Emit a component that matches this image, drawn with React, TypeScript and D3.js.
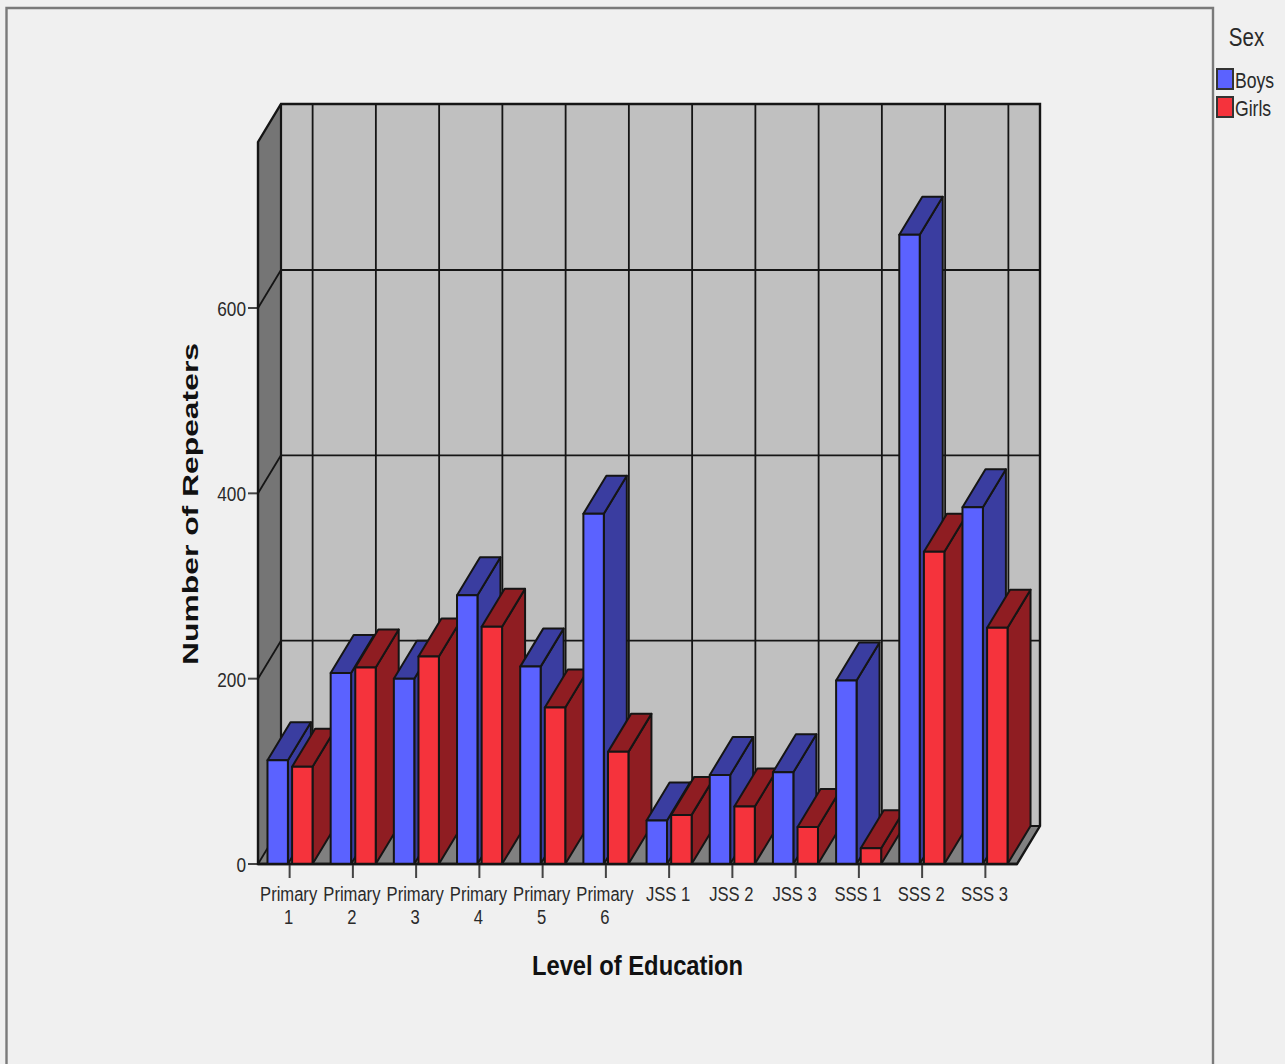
import React from "react";
import * as d3 from "d3";

const categories = ["Primary 1", "Primary 2", "Primary 3", "Primary 4", "Primary 5", "Primary 6", "JSS 1", "JSS 2", "JSS 3", "SSS 1", "SSS 2", "SSS 3"];
const boys = [112, 206, 200, 290, 213, 378, 47, 96, 99, 198, 679, 385];
const girls = [105, 212, 224, 256, 169, 121, 53, 62, 40, 17, 337, 255];
const yTicks = [0, 200, 400, 600];
const sexes = ["Boys", "Girls"];
const frontColors = ["#5b62ff", "#f5333c"];
const sideColors = ["#3a3da0", "#8f1d22"];

const left = 258, right = 1017, floor = 864, top = 142, dx = 23, dy = -38;
const LINE = "#151515";

const x0 = d3.scaleBand<string>().domain(categories).range([left, right]).paddingInner(0.287).paddingOuter(0.15);
const x1 = d3.scaleBand<string>().domain(sexes).range([0, x0.bandwidth()]).paddingInner(0.17);
const tickX = d3.scalePoint<string>().domain(categories).range([left, right]).padding(0.5);
const y = d3.scaleLinear().domain([0, 600]).range([floor, 308]);

const poly = (pts: number[][]) => pts.map((p) => p.join(",")).join(" ");

function Squeezed({ x, y: yy, children, size = 20, sx = 0.72, fill = "#2a2a2a", weight = 400, anchor = "middle" }: any) {
  return (
    <text transform={`translate(${x},${yy}) scale(${sx},1)`} fontFamily="'Liberation Sans', sans-serif" fontSize={size} fontWeight={weight} fill={fill} textAnchor={anchor}>
      {children}
    </text>
  );
}

function Bar({ xa, w, v, i }: { xa: number; w: number; v: number; i: number }) {
  const yt = y(v);
  const xb = xa + w;
  return (
    <g stroke={LINE} strokeWidth={2} strokeLinejoin="round">
      <polygon points={poly([[xb, yt], [xb + dx, yt + dy], [xb + dx, floor + dy], [xb, floor]])} fill={sideColors[i]} />
      <polygon points={poly([[xa, yt], [xa + dx, yt + dy], [xb + dx, yt + dy], [xb, yt]])} fill={sideColors[i]} />
      <rect x={xa} y={yt} width={w} height={floor - yt} fill={frontColors[i]} />
    </g>
  );
}

export default function App() {
  return (
    <svg width={1285} height={1064} style={{ position: "absolute", left: 0, top: 0, display: "block" }}>
      <rect width={1285} height={1064} fill="#f0f0f0" />
      <path d="M6.5,1064 V8 H1213 V1064" fill="none" stroke="#7a7a7a" strokeWidth={2.4} />

      {/* walls */}
      <rect x={left + dx} y={top + dy} width={right - left} height={floor - top} fill="#c0c0c0" />
      <polygon points={poly([[left, top], [left + dx, top + dy], [left + dx, floor + dy], [left, floor]])} fill="#757575" />
      <polygon points={poly([[left, floor], [left + dx, floor + dy], [right + dx, floor + dy], [right, floor]])} fill="#808080" />

      <g stroke={LINE} fill="none">
        {categories.map((c) => (
          <line key={c} x1={tickX(c)! + dx} x2={tickX(c)! + dx} y1={top + dy} y2={floor + dy} strokeWidth={1.8} />
        ))}
        {yTicks.map((t) => (
          <g key={t} strokeWidth={1.8}>
            <line x1={left} y1={y(t)} x2={left + dx} y2={y(t) + dy} />
            <line x1={left + dx} y1={y(t) + dy} x2={right + dx} y2={y(t) + dy} />
            <line x1={left - 10} y1={y(t)} x2={left} y2={y(t)} stroke="#444" strokeWidth={2} />
          </g>
        ))}
        <polygon points={poly([[left, top], [left + dx, top + dy], [right + dx, top + dy], [right + dx, floor + dy], [right, floor], [left, floor]])} strokeWidth={2.4} />
        <line x1={left + dx} y1={top + dy} x2={left + dx} y2={floor + dy} strokeWidth={2.2} />
      </g>

      {/* bars */}
      {categories.map((c, k) =>
        [boys[k], girls[k]].map((v, i) => (
          <Bar key={c + i} xa={x0(c)! + x1(sexes[i])!} w={x1.bandwidth()} v={v} i={i} />
        ))
      )}

      {/* category axis */}
      {categories.map((c) => {
        const lines = c.startsWith("Primary") ? c.split(" ") : [c];
        const tx = tickX(c)!;
        return (
          <g key={c}>
            <line x1={tx} x2={tx} y1={floor} y2={878} stroke="#444" strokeWidth={2} />
            {lines.map((l, j) => (
              <Squeezed key={j} x={tx - 1} y={901 + j * 23} size={21} sx={0.79}>{l}</Squeezed>
            ))}
          </g>
        );
      })}
      <line x1={left} x2={right} y1={floor} y2={floor} stroke={LINE} strokeWidth={2.4} />

      {yTicks.map((t) => (
        <Squeezed key={t} x={246} y={y(t) + 8} size={21} sx={0.82} anchor="end">{t}</Squeezed>
      ))}

      <text transform="translate(198,665) rotate(-90)" fontFamily="'Liberation Sans', sans-serif" fontWeight={700} fontSize={22} fill="#111" textLength={322} lengthAdjust="spacingAndGlyphs">Number of Repeaters</text>
      <Squeezed x={637.5} y={975} size={27} sx={0.88} weight={700} fill="#111">Level of Education</Squeezed>

      {/* legend */}
      <Squeezed x={1246.5} y={46} size={26} sx={0.79}>Sex</Squeezed>
      {sexes.map((s, i) => (
        <g key={s}>
          <rect x={1217} y={69 + i * 28} width={16} height={20} fill={frontColors[i]} stroke="#333" strokeWidth={2} />
          <Squeezed x={1235} y={88 + i * 28} size={22} sx={0.8} anchor="start">{s}</Squeezed>
        </g>
      ))}
    </svg>
  );
}
